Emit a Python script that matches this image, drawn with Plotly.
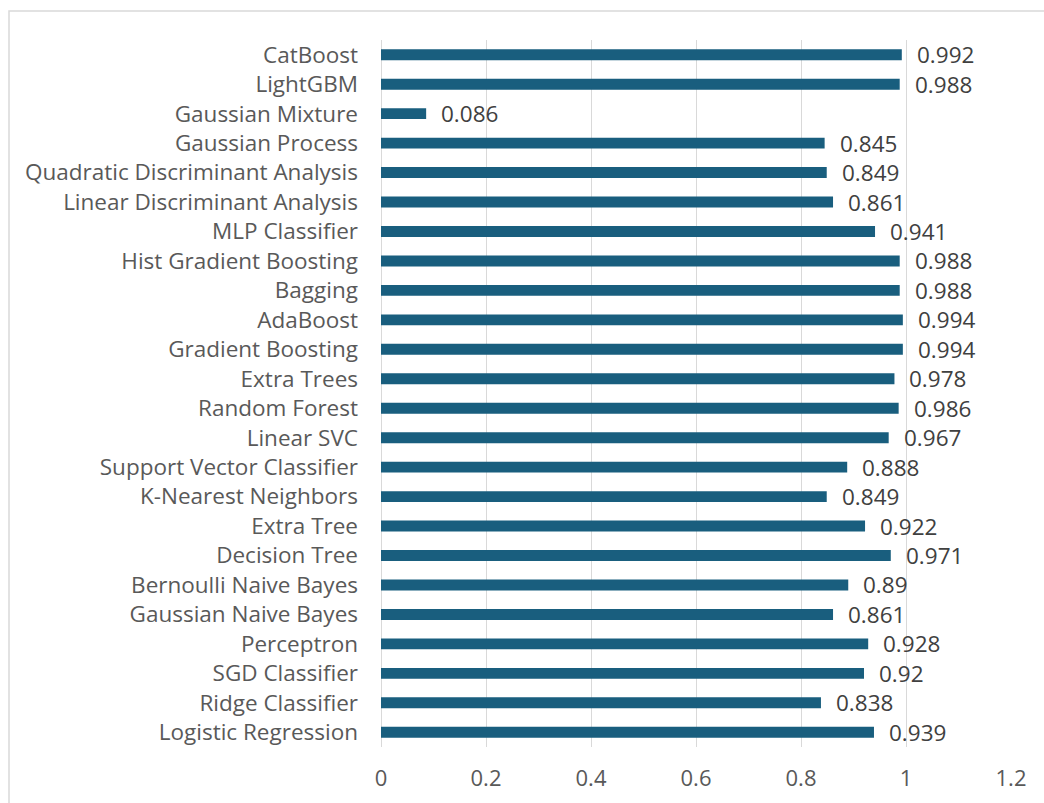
import plotly.graph_objects as go

# Model names (bottom-to-top order on the category axis)
models = [
    "Logistic Regression", "Ridge Classifier", "SGD Classifier", "Perceptron",
    "Gaussian Naive Bayes", "Bernoulli Naive Bayes", "Decision Tree", "Extra Tree",
    "K-Nearest Neighbors", "Support Vector Classifier", "Linear SVC", "Random Forest",
    "Extra Trees", "Gradient Boosting", "AdaBoost", "Bagging",
    "Hist Gradient Boosting", "MLP Classifier", "Linear Discriminant Analysis",
    "Quadratic Discriminant Analysis", "Gaussian Process", "Gaussian Mixture",
    "LightGBM", "CatBoost",
]
scores = [
    0.939, 0.838, 0.92, 0.928,
    0.861, 0.89, 0.971, 0.922,
    0.849, 0.888, 0.967, 0.986,
    0.978, 0.994, 0.994, 0.988,
    0.988, 0.941, 0.861,
    0.849, 0.845, 0.086,
    0.988, 0.992,
]
x_ticks = [0, 0.2, 0.4, 0.6, 0.8, 1, 1.2]
x_tick_text = ["0", "0.2", "0.4", "0.6", "0.8", "1", "1.2"]

BAR = "#195e7e"
TEXT = "#595959"
LABEL_FONT = "Open Sans"

fig = go.Figure(
    go.Bar(
        x=scores,
        y=models,
        orientation="h",
        marker=dict(color=BAR, line=dict(width=0)),
        width=0.37,
        hoverinfo="x+y",
    )
)

# value labels just past the end of each bar
for m, v in zip(models, scores):
    fig.add_annotation(
        x=v, y=m, text=f"{v:g}", showarrow=False,
        xanchor="left", yanchor="middle", xshift=13,
        font=dict(family=LABEL_FONT, size=22.5, color="#404040"),
    )

# light frame around the chart area
fig.add_shape(
    type="rect", xref="paper", yref="paper",
    x0=-372 / 630, x1=1.2, y0=-0.2, y1=1 + 29 / 707,
    line=dict(color="#d9d9d9", width=1.5), fillcolor="rgba(0,0,0,0)",
    layer="below",
)

fig.update_layout(
    width=1044, height=803,
    margin=dict(l=381, r=33, t=40, b=56),
    paper_bgcolor="white", plot_bgcolor="white",
    showlegend=False,
    font=dict(family=LABEL_FONT, color=TEXT),
    xaxis=dict(
        range=[0, 1.2], tickvals=x_ticks, ticktext=x_tick_text,
        showgrid=True, gridcolor="#d9d9d9", gridwidth=1.3,
        zeroline=True, zerolinecolor="#d9d9d9", zerolinewidth=1.3,
        showline=False, ticks="", tickfont=dict(family=LABEL_FONT, size=22, color=TEXT),
        ticklabelstandoff=16, fixedrange=True,
    ),
    yaxis=dict(
        categoryorder="array", categoryarray=models,
        range=[-0.5, len(models) - 0.5],
        showgrid=False, showline=False, ticks="",
        tickfont=dict(family=LABEL_FONT, size=22.5, color=TEXT),
        ticklabelstandoff=22, fixedrange=True,
    ),
)

fig.write_html("out.html")
